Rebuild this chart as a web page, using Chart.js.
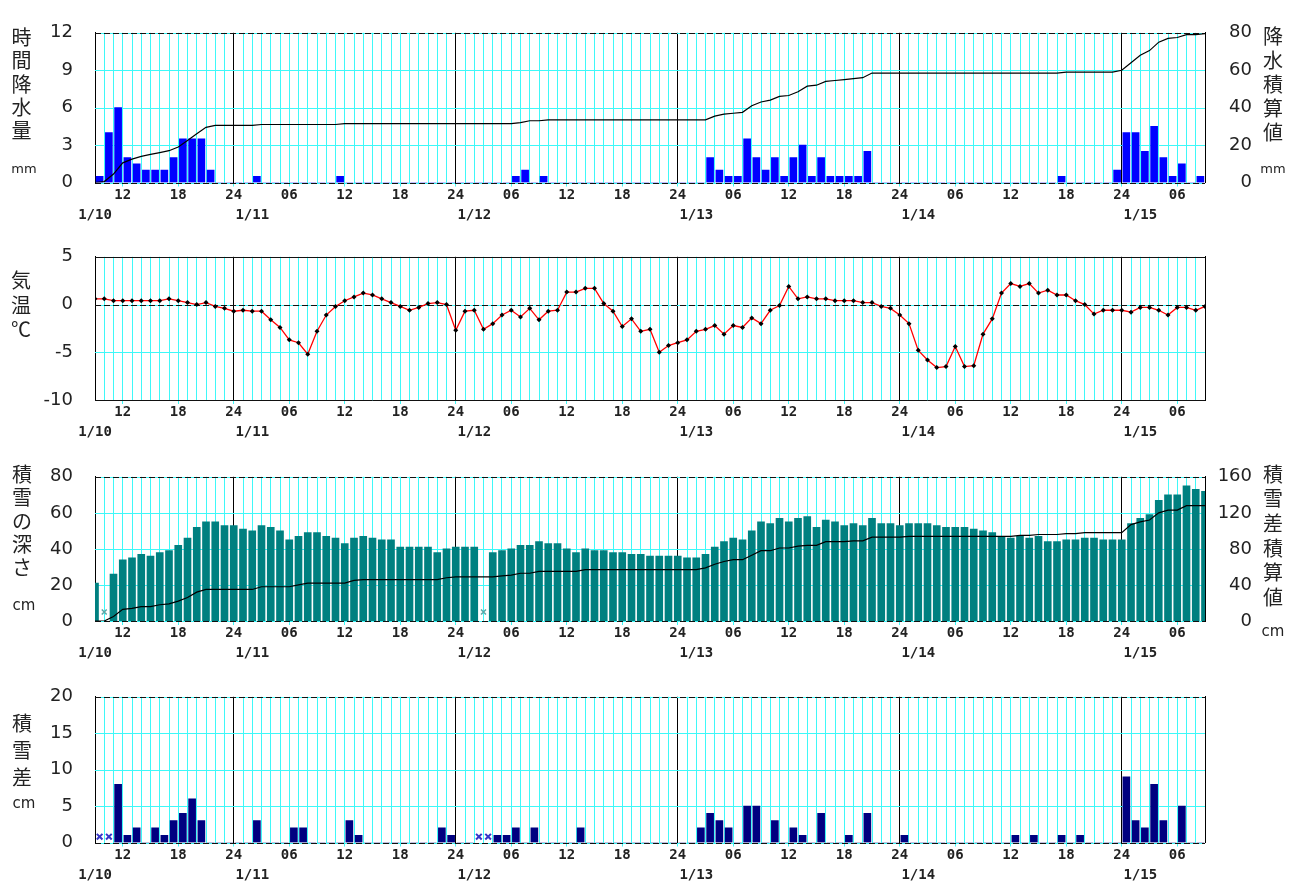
<!DOCTYPE html>
<html><head><meta charset="utf-8">
<script src="https://cdn.jsdelivr.net/npm/chart.js@4.4.1/dist/chart.umd.min.js"></script>
<style>
html,body{margin:0;padding:0;background:#fff;width:1298px;height:883px;overflow:hidden;position:relative}
canvas{position:absolute;left:0}
.vt{position:absolute;font-family:"Noto Sans CJK JP",sans-serif;font-size:20px;color:#222;line-height:1;transform:translate(-50%,-50%);white-space:nowrap}
.unit{position:absolute;font-family:"DejaVu Sans",sans-serif;color:#222;line-height:1;transform:translate(-50%,-50%);white-space:nowrap}
</style></head><body>
<canvas id="c1" width="1298" height="226" style="top:0px"></canvas>
<canvas id="c2" width="1298" height="220" style="top:224px"></canvas>
<canvas id="c3" width="1298" height="221" style="top:444px"></canvas>
<canvas id="c4" width="1298" height="222" style="top:664px"></canvas>
<script>
// ---- data (hour index 0 = 1/10 09:00 ... 120 = 1/15 09:00) ----
// hourly precipitation (mm), one value per hour ending 1/10 10:00 ... 1/15 09:00
const precip = [
 0.5,4,6,2,1.5,1,1,1,2,3.5,3.5,3.5,1,0,0,
 0,0,0.5,0,0,0,0,0,0,0,0,0.5,0,0,0,0,0,0,0,0,0,0,0,0,
 0,0,0,0,0,0,0.5,1,0,0.5,0,0,0,0,0,0,0,0,0,0,0,0,0,0,
 0,0,0,2,1,0.5,0.5,3.5,2,1,2,0.5,2,3,0.5,2,0.5,0.5,0.5,0.5,2.5,0,0,0,
 0,0,0,0,0,0,0,0,0,0,0,0,0,0,0,0,0,0.5,0,0,0,0,0,1,
 4,4,2.5,4.5,2,0.5,1.5,0,0.5
];
// accumulated precipitation (mm) at each hour 1/10 09:00 ... 1/15 09:00
const precipCum = [
 0,0.5,4.5,10.5,12.5,14,15,16,17,19,22.5,26,29.5,30.5,30.5,30.5,
 30.5,30.5,31,31,31,31,31,31,31,31,31,31.5,31.5,31.5,31.5,31.5,31.5,31.5,31.5,31.5,31.5,31.5,31.5,31.5,
 31.5,31.5,31.5,31.5,31.5,31.5,32,33,33,33.5,33.5,33.5,33.5,33.5,33.5,33.5,33.5,33.5,33.5,33.5,33.5,33.5,33.5,33.5,
 33.5,33.5,33.5,35.5,36.5,37,37.5,41,43,44,46,46.5,48.5,51.5,52,54,54.5,55,55.5,56,58.5,58.5,58.5,58.5,
 58.5,58.5,58.5,58.5,58.5,58.5,58.5,58.5,58.5,58.5,58.5,58.5,58.5,58.5,58.5,58.5,58.5,59,59,59,59,59,59,60,
 64,68,70.5,75,77,77.5,79,79,79.5
];
// air temperature (°C) at each hour
const temperature = [
 0.6,0.6,0.4,0.4,0.4,0.4,0.4,0.4,0.6,0.4,0.2,0.0,0.2,-0.2,-0.4,-0.7,
 -0.6,-0.7,-0.7,-1.6,-2.4,-3.7,-4.0,-5.2,-2.8,-1.1,-0.2,0.4,0.8,1.2,1.0,0.6,0.2,-0.2,-0.6,-0.3,0.1,0.2,0.0,-2.7,
 -0.7,-0.6,-2.6,-2.0,-1.1,-0.6,-1.3,-0.4,-1.6,-0.7,-0.6,1.3,1.3,1.7,1.7,0.1,-0.7,-2.3,-1.5,-2.8,-2.6,-5.0,-4.3,-4.0,
 -3.7,-2.8,-2.6,-2.2,-3.1,-2.2,-2.4,-1.4,-2.0,-0.6,-0.1,1.9,0.6,0.8,0.6,0.6,0.4,0.4,0.4,0.2,0.2,-0.2,-0.4,-1.1,
 -2.0,-4.8,-5.8,-6.6,-6.5,-4.4,-6.5,-6.4,-3.1,-1.5,1.2,2.2,1.9,2.2,1.2,1.5,1.0,1.0,0.4,0.0,-1.0,-0.6,-0.6,-0.6,
 -0.8,-0.3,-0.3,-0.6,-1.1,-0.3,-0.3,-0.6,-0.2
];
// snow depth (cm) at each hour, null = missing
const snowDepth = [
 21,null,26,34,35,37,36,38,39,42,46,52,55,55,53,53,
 51,50,53,52,50,45,47,49,49,47,46,43,46,47,46,45,45,41,41,41,41,38,40,41,
 41,41,null,38,39,40,42,42,44,43,43,40,38,40,39,39,38,38,37,37,36,36,36,36,
 35,35,37,41,44,46,45,50,55,54,57,55,57,58,52,56,55,53,54,53,57,54,54,53,
 54,54,54,53,52,52,52,51,50,49,47,46,47,46,47,44,44,45,45,46,46,45,45,45,
 54,57,59,67,70,70,75,73,72
];
// accumulated snowfall (cm) at each hour
const snowCum = [
 0,0,5,13,14,16,16,18,19,22,26,32,35,35,35,35,
 35,35,38,38,38,38,40,42,42,42,42,42,45,46,46,46,46,46,46,46,46,46,48,49,
 49,49,49,49,50,51,53,53,55,55,55,55,55,57,57,57,57,57,57,57,57,57,57,57,
 57,57,59,63,66,68,68,73,78,78,81,81,83,84,84,88,88,88,89,89,93,93,93,93,
 94,94,94,94,94,94,94,94,94,94,94,94,95,95,96,96,96,97,97,98,98,98,98,98,
 107,110,112,120,123,123,128,128,128
];
// hourly snowfall (cm), one value per hour ending 1/10 10:00 ... 1/15 09:00, null = missing
const snowDiff = [
 null,null,8,1,2,0,2,1,3,4,6,3,0,0,0,
 0,0,3,0,0,0,2,2,0,0,0,0,3,1,0,0,0,0,0,0,0,0,2,1,
 0,0,null,null,1,1,2,0,2,0,0,0,0,2,0,0,0,0,0,0,0,0,0,0,
 0,0,2,4,3,2,0,5,5,0,3,0,2,1,0,4,0,0,1,0,4,0,0,0,
 1,0,0,0,0,0,0,0,0,0,0,0,1,0,1,0,0,1,0,1,0,0,0,0,
 9,3,2,8,3,0,5,0,0
];
// x tick labels
const hourLabels = ['12','18','24','06','12','18','24','06','12','18','24','06','12','18','24','06','12','18','24','06'];
const dateLabels = ['1/10','1/11','1/12','1/13','1/14','1/15'];

// ---- styling / helpers ----
const CYAN = '#3ff8f8';
const TXT = '#222';
const hourTickVals = hourLabels.map((_, k) => 3 + 6 * k);
const dateTickVals = dateLabels.map((_, k) => k === 0 ? 0 : 17 + 24 * (k - 1));

// horizontal grid (cyan at every left tick) and black reference lines, drawn through the y scale
const refLines = {
  id: 'refLines',
  beforeDatasetsDraw(chart, args, opts) {
    const {ctx, chartArea: a, scales} = chart;
    const y = scales.y;
    ctx.save();
    ctx.lineWidth = 1;
    ctx.strokeStyle = CYAN;
    ctx.setLineDash([]);
    y.ticks.forEach(t => {
      const yy = Math.round(y.getPixelForValue(t.value)) + 0.5;
      ctx.beginPath(); ctx.moveTo(a.left, yy); ctx.lineTo(a.right, yy); ctx.stroke();
    });
    (opts.lines || []).forEach(l => {
      const yy = Math.round(y.getPixelForValue(l.v)) + 0.5;
      ctx.strokeStyle = '#111';
      ctx.setLineDash(l.dash ? [6, 3] : []);
      ctx.beginPath(); ctx.moveTo(a.left, yy); ctx.lineTo(a.right, yy); ctx.stroke();
    });
    ctx.restore();
  }
};

function gridColor(c) {
  const v = c && c.tick ? c.tick.value : null;
  if (v === null || v === undefined) return CYAN;
  return (v === 0 || v === 120 || (v - 15) % 24 === 0) ? '#000' : CYAN;
}

function xScales() {
  return {
    xg: {
      type: 'linear', min: 0, max: 120, position: 'bottom', weight: 0, offset: false,
      afterBuildTicks: s => { s.ticks = Array.from({length: 121}, (_, i) => ({value: i})); },
      afterFit: s => { s.height = 0; },
      ticks: {display: false},
      grid: {color: gridColor, lineWidth: 1, drawTicks: false, offset: false},
      border: {display: false}
    },
    x: {
      type: 'linear', min: 0, max: 120, position: 'bottom', weight: 1, offset: false,
      afterBuildTicks: s => { s.ticks = hourTickVals.map(v => ({value: v})); },
      afterFit: s => { s.height = 20; },
      ticks: {autoSkip: false, maxRotation: 0, padding: 0, color: TXT,
        font: {family: 'DejaVu Sans Mono', size: 14, weight: 'bold'},
        callback: (v, i) => hourLabels[i]},
      grid: {drawOnChartArea: false, drawTicks: true, tickLength: 4, tickColor: CYAN, color: CYAN, offset: false},
      border: {display: false}
    },
    xd: {
      type: 'linear', min: 0, max: 120, position: 'bottom', weight: 2, offset: false,
      afterBuildTicks: s => { s.ticks = dateTickVals.map(v => ({value: v})); },
      afterFit: s => { s.height = 22; },
      ticks: {autoSkip: false, maxRotation: 0, padding: 4, color: TXT,
        font: {family: 'DejaVu Sans Mono', size: 14, weight: 'bold'},
        callback: (v, i) => dateLabels[i]},
      grid: {display: false, drawTicks: false, offset: false},
      border: {display: false}
    }
  };
}

function yScales(min, max, step, rmin, rmax, rstep, showRight) {
  const lt = []; for (let v = min; v <= max + 1e-9; v += step) lt.push(v);
  const rt = []; for (let v = rmin; v <= rmax + 1e-9; v += rstep) rt.push(v);
  return {
    y: {
      type: 'linear', position: 'left', min, max,
      afterBuildTicks: s => { s.ticks = lt.map(v => ({value: v})); },
      afterFit: s => { s.width = 95; },
      ticks: {padding: 22, color: TXT, font: {family: 'DejaVu Sans', size: 18}, callback: v => String(v)},
      grid: {display: false, drawTicks: false},
      border: {display: true, color: '#000', width: 1}
    },
    y2: {
      type: 'linear', position: 'right', min: rmin, max: rmax,
      afterBuildTicks: s => { s.ticks = rt.map(v => ({value: v})); },
      afterFit: s => { s.width = 47; },
      ticks: {display: showRight, crossAlign: 'far', padding: 0, color: TXT,
        font: {family: 'DejaVu Sans', size: 18}, callback: v => String(v)},
      grid: {display: false, drawOnChartArea: false, drawTicks: false},
      border: {display: true, color: '#000', width: 1}
    }
  };
}

function make(id, padTop, padBottom, datasets, ys, lines) {
  try {
    return new Chart(document.getElementById(id), {
      type: 'bar',
      data: {datasets},
      options: {
        responsive: false, animation: false, events: [],
        layout: {padding: {top: padTop, bottom: padBottom, left: 0, right: 46}},
        plugins: {legend: {display: false}, tooltip: {enabled: false}, refLines: {lines}},
        scales: Object.assign({}, xScales(), ys)
      },
      plugins: [refLines]
    });
  } catch (e) { console.error(e); }
}

// Panel 1: precipitation
make('c1', 22, 1.5, [
  {type: 'line', yAxisID: 'y2', data: precipCum.map((v, i) => ({x: i, y: v})),
   borderColor: '#000', borderWidth: 1.2, pointRadius: 0, order: 1},
  {type: 'bar', yAxisID: 'y', data: precip.map((v, j) => ({x: j + 0.5, y: v})),
   backgroundColor: '#0000ff', barThickness: 7, order: 2}
], yScales(0, 12, 3, 0, 80, 20, true), [{v: 0, dash: true}, {v: 12, dash: true}]);

// Panel 2: temperature
make('c2', 16, 2, [
  {type: 'line', yAxisID: 'y', data: temperature.map((v, i) => ({x: i, y: v})),
   borderColor: '#ff0000', borderWidth: 1.3, pointStyle: 'rectRot', pointRadius: 2.5,
   pointBackgroundColor: '#000', pointBorderColor: '#000', pointBorderWidth: 0, order: 1}
], yScales(-10, 5, 5, -10, 5, 5, false), [{v: 0, dash: true}, {v: 5, dash: false}, {v: -10, dash: false}]);

// Panel 3: snow depth
const depthMissing = snowDepth.map((v, i) => v === null ? {x: i, y: 5} : null).filter(p => p);
make('c3', 16.5, 2, [
  {type: 'line', yAxisID: 'y2', data: snowCum.map((v, i) => ({x: i, y: v})),
   borderColor: '#000', borderWidth: 1.2, pointRadius: 0, order: 1},
  {type: 'line', yAxisID: 'y', data: depthMissing, showLine: false,
   pointStyle: 'crossRot', pointRadius: 3.5, pointBorderColor: '#5aa8a8', pointBorderWidth: 1.5, order: 0},
  {type: 'bar', yAxisID: 'y', data: snowDepth.map((v, i) => ({x: i, y: v})),
   backgroundColor: '#008080', barThickness: 7, order: 2}
], yScales(0, 80, 20, 0, 160, 40, true), [{v: 0, dash: true}, {v: 80, dash: true}]);

// Panel 4: hourly snowfall
const diffMissing = snowDiff.map((v, j) => v === null ? {x: j + 0.5, y: 0.8} : null).filter(p => p);
make('c4', 18.5, 1.5, [
  {type: 'line', yAxisID: 'y', data: diffMissing, showLine: false,
   pointStyle: 'crossRot', pointRadius: 4, pointBorderColor: '#3535c8', pointBorderWidth: 2, order: 0},
  {type: 'bar', yAxisID: 'y', data: snowDiff.map((v, j) => ({x: j + 0.5, y: v})),
   backgroundColor: '#000080', barThickness: 7, order: 2}
], yScales(0, 20, 5, 0, 20, 5, false), [{v: 0, dash: true}, {v: 20, dash: true}]);

// ---- vertical axis titles (real text) ----
function title(chars, x, y0, pitch, size) {
  chars.forEach((ch, k) => {
    const d = document.createElement('div');
    d.className = 'vt';
    d.textContent = ch;
    d.style.left = x + 'px';
    d.style.top = (y0 + k * pitch) + 'px';
    if (size) d.style.fontSize = size + 'px';
    document.body.appendChild(d);
  });
}
function unit(text, x, y, size) {
  const d = document.createElement('div');
  d.className = 'unit';
  d.textContent = text;
  d.style.left = x + 'px'; d.style.top = y + 'px'; d.style.fontSize = size + 'px';
  document.body.appendChild(d);
}
title(['時','間','降','水','量'], 21.5, 37, 23.3);
unit('mm', 24, 168, 13);
title(['降','水','積','算','値'], 1273, 36, 24);
unit('mm', 1273, 168, 13);
title(['気','温','℃'], 21, 280, 24.5);
title(['積','雪','の','深','さ'], 22, 474, 23.3);
unit('cm', 24, 605, 15);
title(['積','雪','差','積','算','値'], 1273, 473.5, 24.7);
unit('cm', 1273, 631, 15);
title(['積','雪','差'], 22, 723, 27);
unit('cm', 24, 803, 15);
</script>
</body></html>
